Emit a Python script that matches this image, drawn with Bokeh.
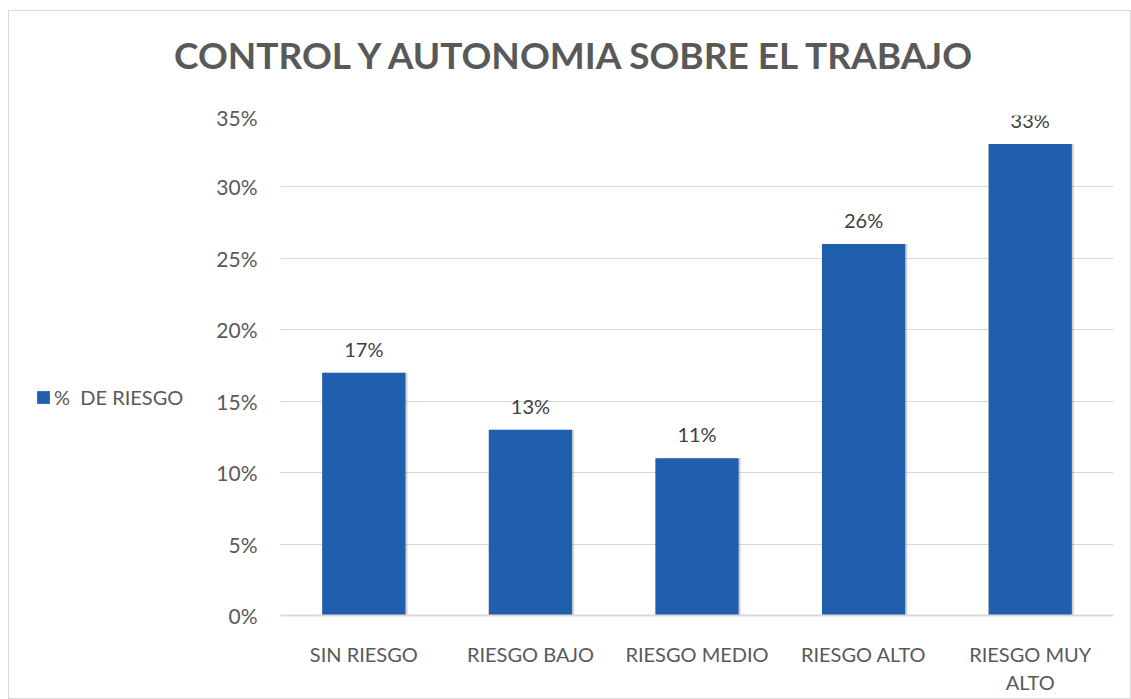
from bokeh.plotting import figure
from bokeh.layouts import column, row
from bokeh.models import ColumnDataSource, Legend, LegendItem, NumeralTickFormatter, FixedTicker, Label
from bokeh.transform import dodge
from bokeh.core.properties import value
from bokeh.embed import file_html
from bokeh.resources import INLINE

categories = ["SIN RIESGO", "RIESGO BAJO", "RIESGO MEDIO", "RIESGO ALTO", "RIESGO MUY\nALTO"]
values = [0.17, 0.13, 0.11, 0.26, 0.33]
labels = ["17%", "13%", "11%", "26%", "33%"]
series_name = "%  DE RIESGO"
title_text = "CONTROL Y AUTONOMIA SOBRE EL TRABAJO"
y_ticks = [0, 0.05, 0.10, 0.15, 0.20, 0.25, 0.30, 0.35]

FONT = "Lato"
TXT = "#595959"
BAR = "#1f5fad"

src = ColumnDataSource(dict(cat=categories, val=values, lab=labels))


def bare(w, h, **kw):
    f = figure(width=w, height=h, x_axis_type=None, y_axis_type=None,
               output_backend="svg", toolbar_location=None,
               min_border_left=0, min_border_right=0, min_border_top=0, min_border_bottom=0, **kw)
    f.outline_line_color = None
    f.grid.visible = False
    return f


# ---- title strip ----
title_fig = bare(1121, 93)
title_fig.add_layout(Label(x=568, y=50, x_units="screen", y_units="screen", text=title_text,
                           text_align="center", text_baseline="middle", text_font=FONT,
                           text_font_size="37px", text_font_style="bold", text_color=TXT))

# ---- main chart ----
p = figure(x_range=categories, y_range=(0, 0.35), width=921, height=594,
           output_backend="svg", toolbar_location=None,
           min_border_left=71, min_border_right=17, min_border_top=11, min_border_bottom=83)

# soft shadow
p.vbar(x=dodge("cat", 0.012, range=p.x_range), top="val", width=0.5, source=src,
       fill_color="#000000", fill_alpha=0.18, line_color=None)
p.vbar(x="cat", top="val", width=0.5, source=src, fill_color=BAR, line_color=None)

p.text(x="cat", y="val", text="lab", source=src, text_align="center", text_baseline="bottom",
       y_offset=-12, text_font=value(FONT), text_font_size="20px", text_color="#404040")

p.yaxis.ticker = FixedTicker(ticks=y_ticks)
p.yaxis.formatter = NumeralTickFormatter(format="0%")
for ax in (p.xaxis[0], p.yaxis[0]):
    ax.major_label_text_font = FONT
    ax.major_label_text_font_size = "20px"
    ax.major_label_text_color = TXT
    ax.major_tick_line_color = None
    ax.minor_tick_line_color = None
p.yaxis.major_label_text_font_size = "21px"
p.yaxis.axis_line_color = None
p.yaxis.major_label_standoff = 17
p.xaxis.axis_line_color = "#d9d9d9"
p.xaxis.axis_line_width = 2
p.xaxis.major_label_standoff = 20

p.xgrid.grid_line_color = None
p.ygrid.grid_line_color = "#d9d9d9"
p.ygrid.grid_line_width = 1
p.outline_line_color = None

# ---- legend strip (frame is aligned with the main chart's frame) ----
leg_fig = bare(200, 594, x_range=categories, y_range=(0, 0.35))
swatch = leg_fig.vbar(x="cat", top="val", width=0.5, source=src, fill_color=BAR,
                      line_color=None, visible=False)
legend = Legend(items=[LegendItem(label=series_name, renderers=[swatch])],
                location=(26, 206), orientation="vertical",
                label_text_font=FONT, label_text_font_size="20px", label_text_color=TXT,
                glyph_width=16, glyph_height=16, label_standoff=3,
                inactive_fill_alpha=0, click_policy="none",
                padding=0, margin=0, border_line_color=None, background_fill_alpha=0)
leg_fig.add_layout(legend, "center")

layout = column(title_fig, row(leg_fig, p, spacing=0), spacing=0)
layout.styles = {"border": "1px solid #d9d9d9", "margin-left": "8px", "margin-top": "10px",
                 "background-color": "white"}

open("out.html", "w").write(file_html(layout, INLINE))
